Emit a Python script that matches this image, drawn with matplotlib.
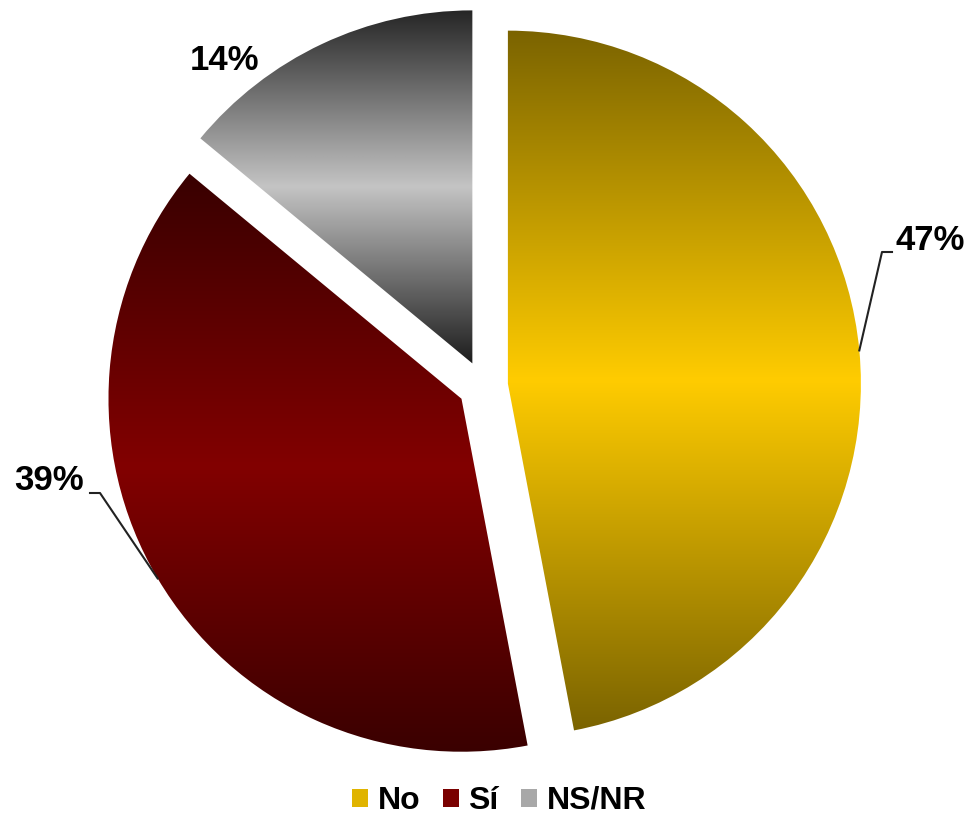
import numpy as np
import matplotlib
matplotlib.use('Agg')
import matplotlib.pyplot as plt
from matplotlib.colors import LinearSegmentedColormap
from matplotlib.patches import Patch

# data
categories = ['No', 'Sí', 'NS/NR']
values = [47, 39, 14]
labels = ['47%', '39%', '14%']

# gradient colours per slice (edge, centre, edge)
grad_cols = [('#7a6300', '#ffcc00', '#7a6300'),
             ('#380000', '#820000', '#380000'),
             ('#1c1c1c', '#c4c4c4', '#242424')]
legend_cols = ['#e0b400', '#7a0000', '#a8a8a8']

plt.rcParams['font.family'] = ['Liberation Sans', 'DejaVu Sans']

fig = plt.figure(figsize=(9.73, 8.19), dpi=100)
ax = fig.add_axes([0, 0, 1, 1])

cx, cy, r = 483, 433, 353
wedges, _ = ax.pie(values, startangle=90, counterclock=False,
                   explode=[25] * 3, center=(cx, cy), radius=r,
                   wedgeprops=dict(linewidth=0))
ax.set_xlim(0, 973)
ax.set_ylim(0, 819)
ax.set_aspect('equal')
ax.axis('off')

# fill each wedge with a vertical dark-light-dark gradient
for w, cols in zip(wedges, grad_cols):
    w.set_facecolor('none')
    verts = w.get_path().vertices
    x0, x1 = verts[:, 0].min(), verts[:, 0].max()
    y0, y1 = verts[:, 1].min(), verts[:, 1].max()
    cmap = LinearSegmentedColormap.from_list('g', list(cols))
    grad = np.linspace(0, 1, 256).reshape(-1, 1)
    im = ax.imshow(grad, cmap=cmap, extent=(x0 - 2, x1 + 2, y0 - 2, y1 + 2),
                   aspect='auto', origin='lower', interpolation='bilinear', zorder=1)
    im.set_clip_path(w)

# percentage labels with leader lines
def mid_point(w):
    ang = np.deg2rad((w.theta1 + w.theta2) / 2)
    return w.center[0] + w.r * np.cos(ang), w.center[1] + w.r * np.sin(ang)

fs = 25
# 47%
px, py = mid_point(wedges[0])
ax.plot([px, 882, 892], [py, 567, 567], color='#222222', lw=1.5, zorder=3)
ax.text(895, 578, labels[0], fontsize=fs, fontweight='bold', ha='left', va='center')
# 39%
px, py = mid_point(wedges[1])
ax.plot([px, 100, 90], [py, 326, 326], color='#222222', lw=1.5, zorder=3)
ax.text(84, 339, labels[1], fontsize=fs, fontweight='bold', ha='right', va='center')
# 14%
ax.text(225, 759, labels[2], fontsize=fs, fontweight='bold', ha='center', va='center')

handles = [Patch(facecolor=c, edgecolor='none', label=l) for c, l in zip(legend_cols, categories)]
fig.legend(handles=handles, loc='center', bbox_to_anchor=(0.513, 0.022), ncol=3,
           frameon=False, prop=dict(size=23, weight='bold'),
           handlelength=0.5, handleheight=0.5, handletextpad=0.3, columnspacing=0.7)

fig.savefig('out.png', dpi=100)
